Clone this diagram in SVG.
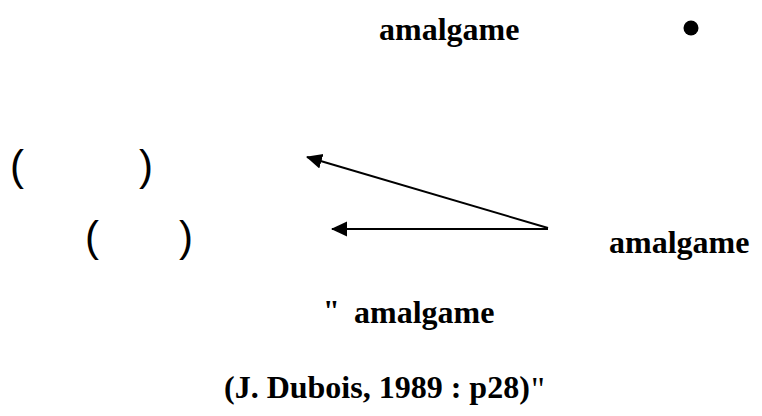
<svg xmlns="http://www.w3.org/2000/svg" width="762" height="416" viewBox="0 0 762 416">
<style>
.t{font-family:"Liberation Serif","Times New Roman",serif;font-weight:bold;font-size:32px;fill:#000}
.p{font-family:"Liberation Sans",Arial,sans-serif;font-size:42px;fill:#000}
.c{stroke:#000;stroke-width:2;fill:none}
</style>
<defs>
<marker id="ah" markerUnits="userSpaceOnUse" markerWidth="18" markerHeight="16" refX="15" refY="7.5" orient="auto">
<path d="M0,0 L16,7.5 L0,15 Z" fill="#000"/>
</marker>
</defs>
<rect width="762" height="416" fill="#fff"/>
<g id="title">
<text class="t" x="379" y="40">amalgame</text>
<circle cx="691" cy="28" r="7.5" fill="#000"/>
</g>
<g id="paren1">
<text class="p" x="10" y="180">(</text>
<text class="p" x="139" y="180">)</text>
</g>
<g id="paren2">
<text class="p" x="85" y="251">(</text>
<text class="p" x="179" y="251">)</text>
</g>
<g id="source">
<text class="t" x="609" y="253">amalgame</text>
</g>
<g id="connectors">
<line class="c" x1="548" y1="228" x2="307" y2="157" marker-end="url(#ah)"/>
<line class="c" x1="548" y1="229" x2="332" y2="229" marker-end="url(#ah)"/>
</g>
<g id="quote">
<text class="t" x="323" y="320" style="font-size:30px">"</text>
<text class="t" x="354" y="323">amalgame</text>
<text class="t" x="224" y="398">(J. Dubois, 1989 : p28)</text>
<text x="531" y="400" style="font-family:'Liberation Serif','Times New Roman',serif;font-size:34px;fill:#000">"</text>
</g>
</svg>
